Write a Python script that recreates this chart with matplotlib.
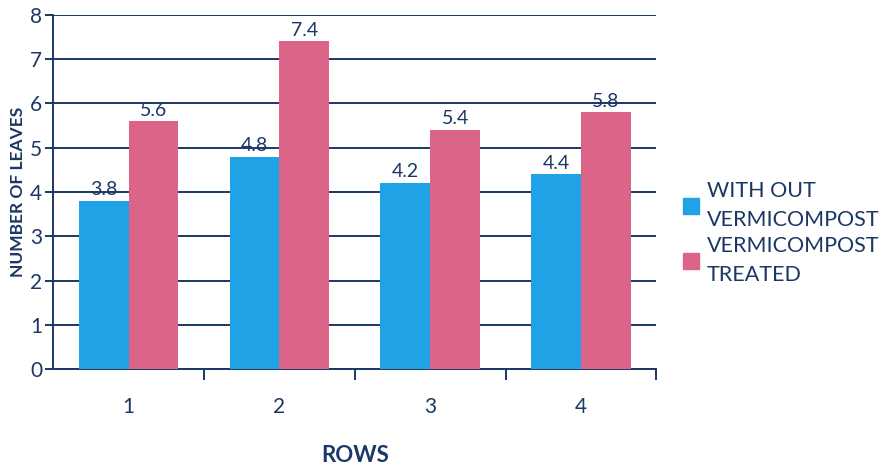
import numpy as np
import matplotlib
matplotlib.use("Agg")
import matplotlib.pyplot as plt
from matplotlib.patches import Patch

#data
rows = ["1", "2", "3", "4"]
without_vc = [3.8, 4.8, 4.2, 4.4]
vc_treated = [5.6, 7.4, 5.4, 5.8]
series_names = ["WITH OUT\nVERMICOMPOST", "VERMICOMPOST\nTREATED"]

#style
navy = "#1b3766"
blue = "#1fa2e6"
pink = "#dd6489"
plt.rcParams['font.family'] = ['Lato', 'DejaVu Sans']

fig = plt.figure(figsize=(8.87, 4.66), dpi=100)
ax = fig.add_axes([0.06, 0.208, 0.68, 0.76])

x = np.arange(len(rows))
w = 0.33
b1 = ax.bar(x - w/2, without_vc, w, color=blue, zorder=3)
b2 = ax.bar(x + w/2, vc_treated, w, color=pink, zorder=3)

for bars in (b1, b2):
    for r in bars:
        h = r.get_height()
        ax.text(r.get_x() + r.get_width()/2, h + 0.06, "%.1f" % h, ha="center", va="bottom",
                fontsize=14, color=navy, zorder=4)

ax.set_xlim(-0.5, len(rows) - 0.5)
ax.set_ylim(0, 8)
ax.set_yticks(range(0, 9))
ax.yaxis.grid(True, color=navy, lw=1.4, zorder=1)
ax.set_axisbelow(True)

#category labels in the middle, ticks between groups
ax.set_xticks(x)
ax.set_xticklabels(rows)
ax.tick_params(axis="x", length=0, pad=20, labelsize=15, labelcolor=navy)
ax.set_xticks(np.arange(len(rows)) + 0.5, minor=True)
ax.tick_params(axis="x", which="minor", length=8, width=1.4, color=navy)
ax.tick_params(axis="y", length=6, width=1.4, color=navy, labelsize=15, labelcolor=navy, pad=2)

for s in ["top", "right"]:
    ax.spines[s].set_visible(False)
for s in ["left", "bottom"]:
    ax.spines[s].set_color(navy)
    ax.spines[s].set_linewidth(1.4)

ax.set_ylabel("NUMBER OF LEAVES", fontsize=12.5, fontweight="bold", color=navy, labelpad=3)
ax.set_xlabel("ROWS", fontsize=16, fontweight="bold", color=navy, labelpad=20)

handles = [Patch(color=blue), Patch(color=pink)]
leg = fig.legend(handles, series_names, loc="center left", bbox_to_anchor=(0.748, 0.5),
                 frameon=False, fontsize=15.5, handlelength=0.75, handleheight=0.75,
                 handletextpad=0.35, labelspacing=0.25)
for t in leg.get_texts():
    t.set_color(navy)
    t.set_linespacing(1.6)

fig.savefig("out.png", dpi=100)
